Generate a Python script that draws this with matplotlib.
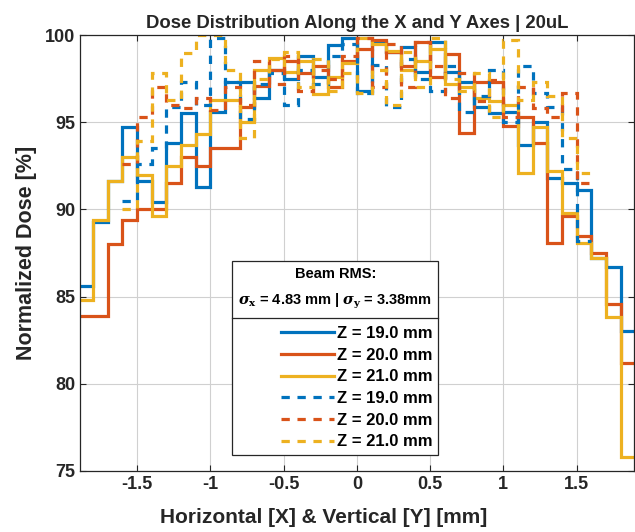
import numpy as np
import matplotlib
matplotlib.use("Agg")
import matplotlib.pyplot as plt
from matplotlib.lines import Line2D

# bin edges [mm], 0.1 mm bins
bin_edges = np.linspace(-1.9, 1.9, 39)

# horizontal (X) profiles, one value per bin
x_z19 = [85.6, 89.3, 91.6, 94.7, 91.6, 90.4, 93.8, 95.5, 91.3, 95.6,
         97.3, 97.3, 96.4, 98.0, 97.5, 98.8, 97.6, 99.4, 99.8, 96.8,
         99.6, 99.0, 99.3, 97.9, 99.6, 97.9, 97.3, 95.9, 95.5, 95.6,
         93.7, 95.0, 91.8, 91.5, 91.1, 87.2, 86.7, 83.0]
x_z20 = [83.9, 83.9, 88.0, 89.4, 90.0, 90.0, 91.5, 93.0, 92.5, 93.5,
         93.5, 95.9, 97.1, 98.0, 98.5, 97.8, 98.2, 97.0, 98.5, 99.2,
         99.7, 99.0, 98.2, 99.6, 97.6, 98.9, 94.4, 97.3, 97.3, 94.8,
         95.3, 93.8, 88.1, 89.6, 88.5, 87.5, 84.6, 81.2]
x_z21 = [84.8, 89.4, 91.6, 93.0, 92.0, 89.6, 92.5, 93.7, 94.3, 96.3,
         96.3, 95.0, 98.0, 98.7, 97.9, 98.5, 96.6, 97.6, 98.4, 99.8,
         99.5, 99.1, 98.0, 98.5, 99.2, 97.2, 97.0, 96.4, 96.2, 96.0,
         92.1, 94.7, 92.2, 89.8, 88.05, 87.2, 83.85, 75.8]

# vertical (Y) profiles cover bins 3..34
y_first_bin = 3
y_z19 = [90.5, 92.6, 93.5, 95.9, 97.3, 96.0, 99.8, 97.3, 95.2, 97.2,
         97.8, 96.0, 98.0, 97.2, 98.8, 99.5, 96.7, 98.3, 95.9, 98.6,
         97.5, 96.8, 98.2, 95.6, 96.5, 98.0, 95.0, 98.2, 96.7, 95.9,
         92.3, 88.2]
y_z20 = [92.6, 95.3, 97.0, 96.0, 95.8, 96.4, 95.7, 97.0, 96.0, 98.5,
         97.2, 98.8, 96.8, 98.0, 97.5, 98.8, 99.8, 97.0, 99.5, 97.0,
         99.6, 98.2, 96.4, 97.8, 96.2, 97.4, 95.3, 97.0, 95.8, 95.3,
         96.7, 91.5]
y_z21 = [90.0, 93.9, 97.8, 96.3, 98.95, 100.0, 100.0, 98.0, 94.1, 97.5,
         98.6, 99.0, 97.0, 98.6, 96.8, 97.8, 96.7, 98.0, 96.0, 99.0,
         97.0, 99.8, 97.5, 96.8, 97.8, 95.3, 99.7, 96.3, 97.3, 96.5,
         94.1, 92.1]

z_labels = ["Z = 19.0 mm", "Z = 20.0 mm", "Z = 21.0 mm"]
colors = ["#0072BD", "#D95319", "#EDB120"]

plt.rcParams["font.family"] = ["Liberation Sans", "DejaVu Sans"]
plt.rcParams["font.weight"] = "bold"
plt.rcParams["mathtext.fontset"] = "dejavuserif"

fig = plt.figure(figsize=(6.35, 5.32), dpi=100)
ax = fig.add_axes([0.126, 0.1147, 0.872, 0.8195])

lw = 2.3
dash = (0, (2.6, 2.4))
for vals, c in zip([x_z19, x_z20, x_z21], colors):
    ax.stairs(vals, bin_edges, baseline=None, color=c, linewidth=lw)
n = len(y_z19)
y_edges = bin_edges[y_first_bin:y_first_bin + n + 1]
for vals, c in zip([y_z19, y_z20, y_z21], colors):
    ax.stairs(vals, y_edges, baseline=None, color=c, linewidth=lw, linestyle=dash)

ax.set_xlim(-1.89, 1.89)
ax.set_ylim(75, 100)
ax.set_xticks([-1.5, -1, -0.5, 0, 0.5, 1, 1.5])
ax.set_xticklabels(["-1.5", "-1", "-0.5", "0", "0.5", "1", "1.5"])
ax.set_yticks([75, 80, 85, 90, 95, 100])
ax.tick_params(direction="in", top=True, right=True, labelsize=13, length=4,
               color="#262626", labelcolor="#262626")
ax.grid(True, color="#d0d0d0", linewidth=0.8)
ax.set_axisbelow(True)
for s in ax.spines.values():
    s.set_color("#262626")
    s.set_linewidth(0.9)

ax.set_title("Dose Distribution Along the X and Y Axes | 20uL", fontsize=13.3,
             fontweight="bold", color="#262626", pad=5)
ax.set_xlabel("Horizontal [X] & Vertical [Y] [mm]", fontsize=15, fontweight="bold",
              color="#262626", labelpad=4)
ax.xaxis.set_label_coords(0.44, -0.084)
ax.set_ylabel("Normalized Dose [%]", fontsize=15.5, fontweight="bold",
              color="#262626", labelpad=6)

handles = [Line2D([], [], color=c, lw=lw) for c in colors]
handles += [Line2D([], [], color=c, lw=lw, linestyle=dash) for c in colors]
labels = z_labels + z_labels
leg = ax.legend(handles, labels,
                title="Beam RMS:\n$\\sigma_\\mathbf{x}$ = 4.83 mm | $\\sigma_\\mathbf{y}$ = 3.38mm",
                loc="lower center", bbox_to_anchor=(0.461, 0.036), borderaxespad=0,
                fancybox=False, framealpha=1, edgecolor="#262626",
                prop={"size": 12, "weight": "bold"}, handlelength=3.2,
                handletextpad=0.15, labelspacing=0.4, borderpad=0.35,
                alignment="right")
leg.get_frame().set_linewidth(0.9)
t = leg.get_title()
t.set_fontsize(10.5)
t.set_fontweight("bold")
t.set_multialignment("center")
t.set_linespacing(1.8)
leg._legend_box.sep = 11

fig.canvas.draw()
inv = fig.transFigure.inverted()
tb = t.get_window_extent()
fb = leg.get_frame().get_window_extent()
first = leg.get_texts()[0].get_window_extent()
ysep = 0.5 * (tb.y0 + first.y1)
(x0, y0) = inv.transform((fb.x0, ysep))
(x1, _) = inv.transform((fb.x1, ysep))
fig.add_artist(Line2D([x0, x1], [y0, y0], color="#262626", lw=0.9,
                      transform=fig.transFigure))

fig.savefig("out.png", dpi=100)
